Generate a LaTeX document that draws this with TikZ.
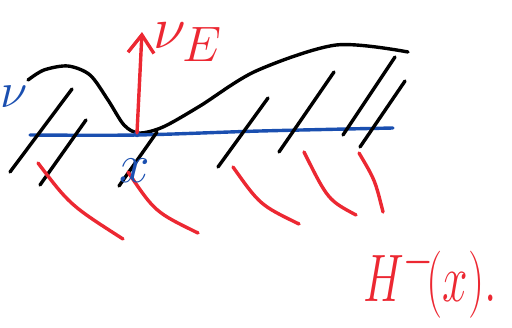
\documentclass[tikz,border=0pt]{standalone}
\usepackage{tikz}
\usetikzlibrary{arrows.meta,positioning}
\definecolor{inkred}{HTML}{EC2832}
\definecolor{inkblue}{HTML}{1A4FB0}
\tikzset{
  inkline/.style={line width=1.7pt, line cap=round, #1},
  inkline/.default=black,
  inklabel/.style={text=#1, inner sep=0pt, font=\Huge}
}

\begin{document}
\begin{tikzpicture}[x=0.5pt, y=-0.5pt]
\useasboundingbox (0,0) rectangle (512,327);

% Potential curve and level line
\draw[inkline] plot[smooth] coordinates
  {(28,80) (44,70) (68,66) (90,75) (108,100) (124,125) (139,133) (163,127)
   (200,106) (256,71) (336,45) (408,52)};
\draw[inkline=inkblue] plot[smooth] coordinates
  {(30,135) (137,135) (260,131) (393,128)};
\fill[inkblue] (137,134) circle (3.2);

% Black hatching
\foreach \xa/\ya/\xb/\yb in {72/89/10/172, 86/120/40/185, 157/132/119/186,
    268/98/218/167, 334/72/279/152, 395/57/343/135, 405/81/360/147}
  \draw[inkline] (\xa,\ya) -- (\xb,\yb);

% Red hatching
\draw[inkline=inkred] (38,163) .. controls (70,205) .. (123,239);
\draw[inkline=inkred] (128,172) .. controls (155,212) .. (198,233);
\draw[inkline=inkred] (233,167) .. controls (260,205) .. (299,224);
\draw[inkline=inkred] (304,152) .. controls (328,200) .. (356,215);
\draw[inkline=inkred] (359,153) .. controls (375,180) .. (383,212);

% Velocity arrow
\coordinate (base) at (137,133);
\coordinate (tip) at (142,32);
\draw[inkline=inkred, -{Straight Barb[length=9pt, width=13pt]}] (base) -- (tip);

% Labels
\node[inklabel=inkblue] (nu) at (14,97) {$\nu$};
\node[inklabel=inkred, scale=1.2] (nuE) at (188,42) {$\nu_E$};
\node[inklabel=inkblue, scale=1.1] (xpt) at (135,171) {$x$};
\node[inklabel=inkred, xscale=0.92, yscale=1.35] (Hm) at (430,281) {$H^{-}\!(x).$};
\end{tikzpicture}
\end{document}
